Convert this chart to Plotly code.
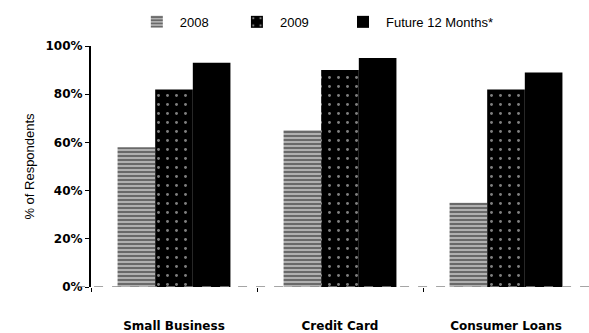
import plotly.graph_objects as go

categories = ["Small Business", "Credit Card", "Consumer Loans"]
series_names = ["2008", "2009", "Future 12 Months*"]
values_2008 = [58, 65, 35]
values_2009 = [82, 90, 82]
values_future = [93, 95, 89]
y_ticks = [0, 20, 40, 60, 80, 100]
y_tick_labels = ["0%", "20%", "40%", "60%", "80%", "100%"]

FONT = "Liberation Sans, Arial, sans-serif"
BOLD = "DejaVu Sans, Arial, sans-serif"

styles = [
    dict(color="#a8a8a8", pattern=dict(shape="-", fgcolor="#111111", bgcolor="#b0b0b0", size=4, solidity=0.45)),
    dict(color="#000000", pattern=dict(shape=".", fgcolor="#ffffff", bgcolor="#000000", size=9, solidity=0.08)),
    dict(color="#000000"),
]
legend_ids = ["legend", "legend2", "legend3"]
legend_x = [0.086, 0.287, 0.50]

fig = go.Figure()
for name, vals, st, lg in zip(series_names, [values_2008, values_2009, values_future], styles, legend_ids):
    marker = dict(color=st["color"], line=dict(width=0))
    if "pattern" in st:
        marker["pattern"] = st["pattern"]
    fig.add_trace(go.Bar(name=name, x=categories, y=vals, marker=marker, legend=lg))

# dashed baseline at 0%
fig.add_shape(type="line", xref="paper", yref="y", x0=-0.03, x1=1, y0=0, y1=0,
              line=dict(color="#888888", width=1.5, dash="dash"))

legend_style = dict(orientation="h", xanchor="left", y=1.10, yanchor="middle",
                    font=dict(size=13, family=FONT), itemwidth=36,
                    bgcolor="rgba(0,0,0,0)")

fig.update_layout(
    width=589, height=333,
    margin=dict(l=91, r=0, t=46, b=46),
    paper_bgcolor="white", plot_bgcolor="white",
    barmode="group", bargap=0.32, bargroupgap=0,
    font=dict(family=FONT, color="#000000"),
    showlegend=True,
    legend=dict(x=legend_x[0], **legend_style),
    legend2=dict(x=legend_x[1], **legend_style),
    legend3=dict(x=legend_x[2], **legend_style),
    xaxis=dict(showline=False, showgrid=False, zeroline=False,
               ticks="outside", tickson="boundaries", ticklen=4, tickcolor="#000000",
               ticklabelstandoff=30,
               tickfont=dict(size=12, family=BOLD, weight="bold")),
    yaxis=dict(range=[0, 100], tickvals=y_ticks, ticktext=y_tick_labels,
               showline=True, linecolor="#000000", linewidth=2,
               showgrid=False, zeroline=False,
               ticks="outside", ticklen=4, tickcolor="#000000",
               tickfont=dict(size=12, family=BOLD, weight="bold"),
               title=dict(text="% of Respondents", font=dict(size=13, family=FONT), standoff=8)),
)

fig.write_html("out.html")
